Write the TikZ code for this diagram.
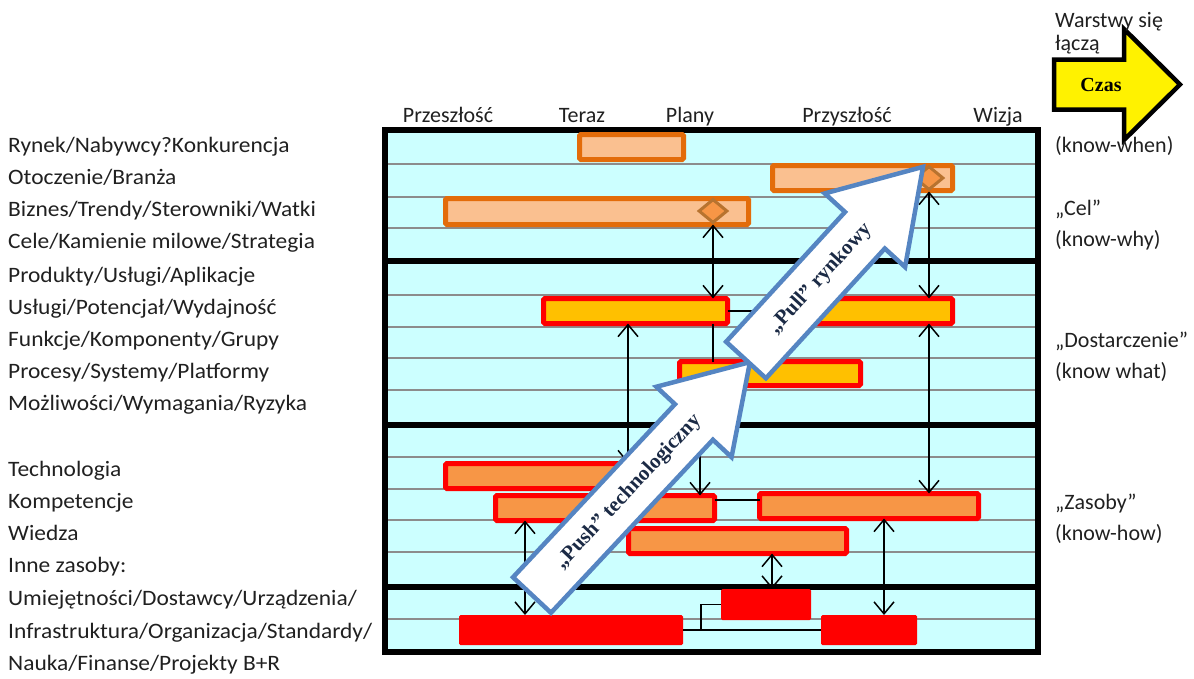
\documentclass[tikz,border=0pt]{standalone}
\usepackage{fontspec}
\setmainfont{Carlito}
\newfontfamily\labelfont[FakeStretch=1.065]{Carlito}
\newfontfamily\serifface{Liberation Serif}
\usetikzlibrary{arrows.meta,shapes.geometric,calc}

\definecolor{chartbg}{HTML}{CCFFFF}
\definecolor{rowgray}{HTML}{8C8C8C}
\definecolor{goalline}{HTML}{E36C0A}
\definecolor{goalfill}{HTML}{FAC090}
\definecolor{msfill}{HTML}{F79646}
\definecolor{msline}{HTML}{B8732F}
\definecolor{delfill}{HTML}{FFC000}
\definecolor{resfill}{HTML}{F79646}
\definecolor{pushline}{HTML}{5585C2}
\definecolor{pushtext}{HTML}{1B2A45}
\definecolor{labeltext}{HTML}{202020}

\begin{document}
\begin{tikzpicture}[x=1pt,y=-1pt,
  lbl/.style={anchor=base west, inner sep=0pt, text=labeltext,
    font=\labelfont\fontsize{22}{26}\selectfont},
  rlbl/.style={anchor=base west, inner sep=0pt, text=labeltext,
    font=\fontsize{22}{26}\selectfont},
  toplbl/.style={anchor=base, inner sep=0pt, text=labeltext,
    font=\fontsize{22}{26}\selectfont},
  barbase/.style={rectangle, inner sep=0pt, outer sep=0pt, rounded corners=1.5pt},
  goalbar/.style={barbase, draw=goalline, fill=goalfill, line width=5pt},
  delbar/.style={barbase, draw=red, fill=delfill, line width=5pt},
  resbar/.style={barbase, draw=red, fill=resfill, line width=5pt},
  basebar/.style={barbase, fill=red},
  milestone/.style={diamond, inner sep=0pt, minimum width=29pt, minimum height=24pt,
    fill=msfill, draw=msline, line width=3pt},
  link/.style={line width=1.5pt, black},
  dbl/.style={link, {Straight Barb[length=12pt,width=20pt]}-{Straight Barb[length=12pt,width=20pt]}},
  bigarrow/.style={fill=white, draw=pushline, line width=4.5pt, line join=miter},
  arrowtext/.style={text=pushtext, inner sep=0pt,
    font=\serifface\bfseries\fontsize{21}{24}\selectfont},
  timearrow/.style={fill=yellow, draw=black, line width=4.5pt, line join=miter}
]
\useasboundingbox (0,0) rectangle (1194,678);

% chart area with row lines and layer dividers
\fill[chartbg] (385,130) rectangle (1038,652);
\foreach \y in {164,197,228,295,327,358,390,457,489,520,552,619}
  \draw[rowgray, line width=2pt] (387,\y) -- (1036,\y);
\foreach \y in {261,425,587}
  \draw[line width=6pt] (385,\y) -- (1038,\y);
\draw[line width=6pt] (385,130) rectangle (1038,652);

% market / goal layer
\node[goalbar, minimum width=104pt, minimum height=25pt] (m1) at (631.5,147) {};
\node[goalbar, minimum width=180pt, minimum height=25pt] (m2) at (862.5,178) {};
\node[goalbar, minimum width=303pt, minimum height=26pt] (m3) at (597,211.5) {};
\node[milestone] (d1) at (713,211) {};
\node[milestone] (d2) at (929,178) {};

% delivery layer
\node[delbar, minimum width=184pt, minimum height=25pt] (a) at (635.5,311) {};
\node[delbar, minimum width=150pt, minimum height=25pt] (b) at (877.5,311) {};
\node[delbar, minimum width=181pt, minimum height=24pt] (c) at (770,373.5) {};

% resource layer
\node[resbar, minimum width=192pt, minimum height=25pt] (dd) at (541.5,476) {};
\node[resbar, minimum width=219pt, minimum height=25pt] (e) at (605,508) {};
\node[resbar, minimum width=219pt, minimum height=25pt] (f) at (869,506) {};
\node[resbar, minimum width=218pt, minimum height=25pt] (g) at (737.5,541) {};

% base resources
\node[basebar, minimum width=224pt, minimum height=30pt] (h) at (571,630) {};
\node[basebar, minimum width=90pt, minimum height=31pt] (i) at (766,604.5) {};
\node[basebar, minimum width=96pt, minimum height=30pt] (j) at (869,630) {};

% links between bars
\draw[link] (a.east) -- (b.west);
\draw[link] (d1 |- a.south) -- (d1 |- c.north);
\draw[link] ([yshift=8pt]e.east) -- ([yshift=8pt]e.east -| f.west);
\draw[link] (h.east) -- (j.west);
\coordinate (hj) at ($(h.east)!0.13!(j.west)$);
\draw[link] (hj) |- (i.west);

\draw[dbl] (d1.south) -- (d1 |- a.north);
\draw[dbl] (d2.south) -- (d2 |- b.north);
\draw[dbl] (d2 |- b.south) -- (d2 |- f.north);
\draw[dbl] ([xshift=-7.5pt]a.south) -- ([xshift=-7.5pt]a.south |- dd.north);
\draw[dbl] ([xshift=-70pt]c.south) -- ([xshift=-70pt]c.south |- e.north);
\draw[dbl] ([xshift=-80pt]e.south) -- ([xshift=-80pt]e.south |- h.north);
\draw[dbl] ([xshift=6pt]i.north |- g.south) -- ([xshift=6pt]i.north);
\draw[dbl] ([xshift=15pt]f.south) -- ([xshift=15pt]f.south |- j.north);

% technology push
\begin{scope}[shift={(532,595)}, rotate=46.9]
  \draw[bigarrow] (0,-26) -- (237,-26) -- (237,-51.5) -- (319,0)
    -- (237,51.5) -- (237,26) -- (0,26) -- cycle;
  \node[arrowtext, rotate=46.9] (push) at (141,0) {„Push” technologiczny};
\end{scope}

% market pull
\begin{scope}[shift={(746,360)}, rotate=47.5]
  \draw[bigarrow] (0,-27) -- (176,-27) -- (176,-54.5) -- (262,0)
    -- (176,54.5) -- (176,27) -- (0,27) -- cycle;
  \node[arrowtext, rotate=47.5] (pull) at (110,0) {„Pull” rynkowy};
\end{scope}

% time arrow
\draw[timearrow] (1054,59.5) -- (1124,59.5) -- (1124,29) -- (1180,84.5)
  -- (1124,140) -- (1124,109.5) -- (1054,109.5) -- cycle;
\node[font=\serifface\bfseries\fontsize{20}{22}\selectfont] (czas) at (1101,85) {Czas};

% time axis
\node[toplbl] (t1) at (448,122.5) {Przeszłość};
\node[toplbl] (t2) at (582,122.5) {Teraz};
\node[toplbl] (t3) at (690,122.5) {Plany};
\node[toplbl] (t4) at (847,122.5) {Przyszłość};
\node[toplbl] (t5) at (998,122.5) {Wizja};

% row labels
\node[lbl] (r1) at (8,152.5) {Rynek/Nabywcy?Konkurencja};
\node[lbl] (r2) at (8,184.5) {Otoczenie/Branża};
\node[lbl] (r3) at (8,216.5) {Biznes/Trendy/Sterowniki/Watki};
\node[lbl] (r4) at (8,248) {Cele/Kamienie milowe/Strategia};
\node[lbl] (r5) at (8,282.5) {Produkty/Usługi/Aplikacje};
\node[lbl] (r6) at (8,314.5) {Usługi/Potencjał/Wydajność};
\node[lbl] (r7) at (8,346) {Funkcje/Komponenty/Grupy};
\node[lbl] (r8) at (8,378) {Procesy/Systemy/Platformy};
\node[lbl] (r9) at (8,410) {Możliwości/Wymagania/Ryzyka};
\node[lbl] (r10) at (8,476) {Technologia};
\node[lbl] (r11) at (8,508.5) {Kompetencje};
\node[lbl] (r12) at (8,540) {Wiedza};
\node[lbl] (r13) at (8,572) {Inne zasoby:};
\node[lbl] (r14) at (8,605) {Umiejętności/Dostawcy/Urządzenia/};
\node[lbl] (r15) at (8,638.5) {Infrastruktura/Organizacja/Standardy/};
\node[lbl] (r16) at (8,670) {Nauka/Finanse/Projekty B+R};

% layer labels
\node[rlbl] (w1) at (1055,27) {Warstwy się};
\node[rlbl] (w2) at (1055,50) {łączą};
\node[rlbl] (k1) at (1055,152) {(know-when)};
\node[rlbl] (k2) at (1055,215) {„Cel”};
\node[rlbl] (k3) at (1055,246) {(know-why)};
\node[rlbl] (k4) at (1055,347) {„Dostarczenie”};
\node[rlbl] (k5) at (1055,378.5) {(know what)};
\node[rlbl] (k6) at (1055,509) {„Zasoby”};
\node[rlbl] (k7) at (1055,540) {(know-how)};
\end{tikzpicture}
\end{document}
